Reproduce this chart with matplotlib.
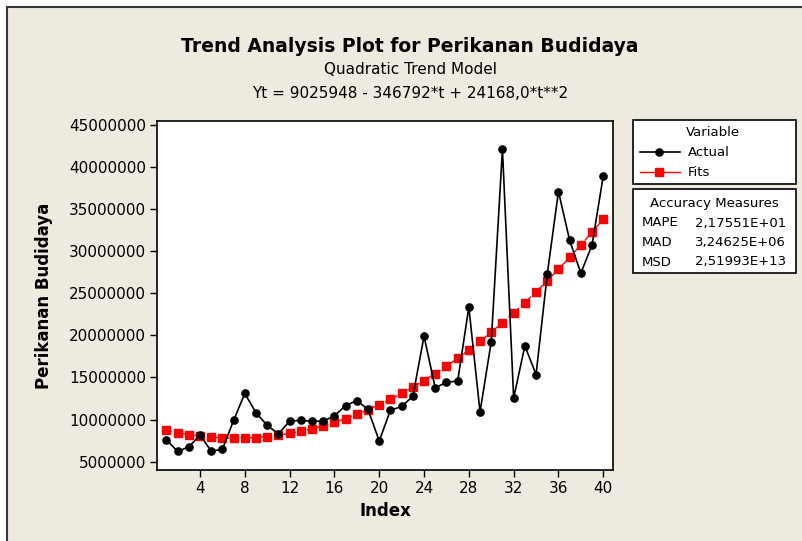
import matplotlib
matplotlib.use("Agg")
import matplotlib.pyplot as plt
from matplotlib.patches import Rectangle

# Data (values in units)
index = list(range(1, 41))
actual = [7600000, 6200000, 6750000, 8150000, 6250000, 6450000, 9900000, 13100000,
          10800000, 9300000, 8300000, 9800000, 9900000, 9800000, 9800000, 10450000,
          11650000, 12250000, 11200000, 7450000, 11100000, 11550000, 12750000, 19900000,
          13750000, 14450000, 14550000, 23350000, 10900000, 19250000, 42100000, 12550000,
          18750000, 15350000, 27250000, 37100000, 31300000, 27400000, 30750000, 38950000]
fits = [8703324, 8429036, 8203084, 8025468, 7896188, 7815244, 7782636, 7798364,
        7862428, 7974828, 8135564, 8344636, 8602044, 8907788, 9261868, 9664284,
        10115036, 10614124, 11161548, 11757308, 12401404, 13093836, 13834604, 14623708,
        15461148, 16346924, 17281036, 18263484, 19294268, 20373388, 21500844, 22676636,
        23900764, 25173228, 26494028, 27863164, 29280636, 30746444, 32260588, 33823068]
y_ticks = [5000000, 10000000, 15000000, 20000000, 25000000, 30000000, 35000000, 40000000, 45000000]
x_ticks = [4, 8, 12, 16, 20, 24, 28, 32, 36, 40]
measures = [("MAPE", "2,17551E+01"), ("MAD", "3,24625E+06"), ("MSD", "2,51993E+13")]

W, H = 802, 541
BG = "#EEEAE0"
plt.rcParams['font.family'] = ['DejaVu Sans']

fig = plt.figure(figsize=(W / 100, H / 100), dpi=100, facecolor="white")

def fx(px):
    return px / W

def fy(py):
    return 1 - py / H

# beige panel with dark border on top/left
fig.patches.append(Rectangle((fx(7), fy(560)), fx(820), (560 - 7) / H, transform=fig.transFigure,
                             facecolor=BG, edgecolor="#3a3a3a", linewidth=1.5, zorder=-10))

ax = fig.add_axes([fx(157), fy(470), fx(613 - 157), (470 - 121) / H])
ax.set_zorder(1)
ax.set_facecolor("white")
ax.plot(index, fits, color="#FF0000", linestyle=(0, (4, 2)), linewidth=1.0,
        marker="s", markersize=5.5, markeredgecolor="#FF0000", zorder=2)
ax.plot(index, actual, color="black", linewidth=1.2, marker="o", markersize=5.2, zorder=3)

ax.set_xlim(0.16, 40.87)
ax.set_ylim(4000000, 45480000)
ax.set_xticks(x_ticks)
ax.set_yticks(y_ticks)
ax.set_yticklabels([str(v) for v in y_ticks])
ax.tick_params(direction="out", length=5, width=1, labelsize=11, pad=3)
for s in ax.spines.values():
    s.set_linewidth(1.2)
ax.set_xlabel("Index", fontsize=12, fontweight="bold", labelpad=4)
ax.set_ylabel("Perikanan Budidaya", fontsize=12, fontweight="bold", labelpad=11)

fig.text(fx(410), fy(46), "Trend Analysis Plot for Perikanan Budidaya", ha="center", va="center",
         fontsize=13.5, fontweight="bold")
fig.text(fx(410), fy(70), "Quadratic Trend Model", ha="center", va="center", fontsize=11)
fig.text(fx(410), fy(94), "Yt = 9025948 - 346792*t + 24168,0*t**2", ha="center", va="center", fontsize=11)

# legend boxes
fig.patches.append(Rectangle((fx(633), fy(184)), fx(796 - 633), (184 - 120) / H, transform=fig.transFigure,
                             facecolor="white", edgecolor="black", linewidth=1.2, zorder=1))
fig.patches.append(Rectangle((fx(633), fy(273)), fx(796 - 633), (273 - 189) / H, transform=fig.transFigure,
                             facecolor="white", edgecolor="black", linewidth=1.2, zorder=1))

fig.text(fx(713), fy(133), "Variable", ha="center", va="center", fontsize=9.5)
fig.add_artist(plt.Line2D([fx(640), fx(659), fx(680)], [fy(152)] * 3, color="black", linewidth=1.2,
                          marker="o", markersize=5.2, markevery=[1], transform=fig.transFigure))
fig.add_artist(plt.Line2D([fx(640), fx(659), fx(680)], [fy(172)] * 3, color="#FF0000", linewidth=1.0,
                          marker="s", markersize=5.5, markevery=[1], transform=fig.transFigure))
fig.text(fx(688), fy(152), "Actual", ha="left", va="center", fontsize=9.5)
fig.text(fx(688), fy(172), "Fits", ha="left", va="center", fontsize=9.5)

fig.text(fx(714), fy(203), "Accuracy Measures", ha="center", va="center", fontsize=9.5)
for i, (name, val) in enumerate(measures):
    yy = fy(223 + 19.5 * i)
    fig.text(fx(642), yy, name, ha="left", va="center", fontsize=9.5)
    fig.text(fx(786), yy, val, ha="right", va="center", fontsize=9.5)

fig.savefig("out.png", dpi=100, facecolor=fig.get_facecolor())
